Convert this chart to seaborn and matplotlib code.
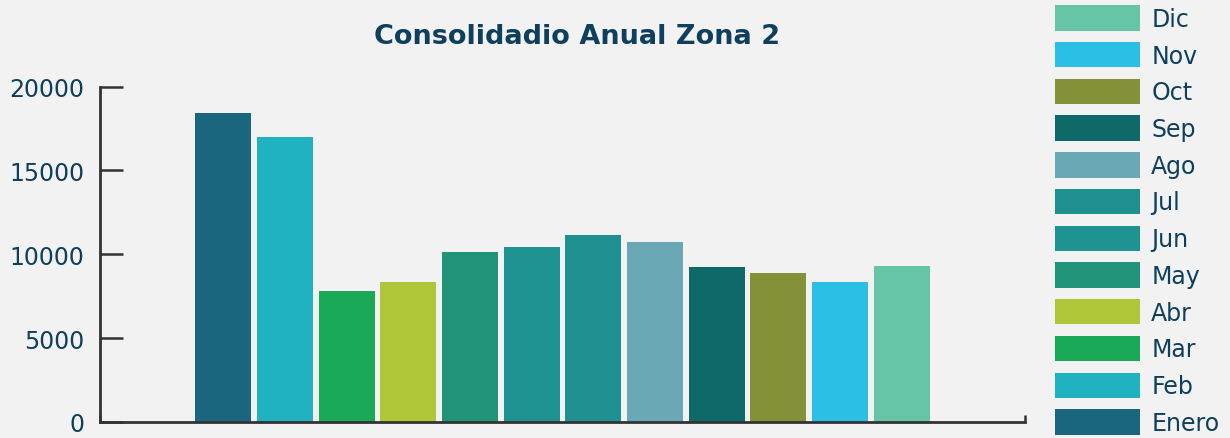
import matplotlib
matplotlib.use("Agg")
import matplotlib.pyplot as plt
import seaborn as sns
import pandas as pd

# Monthly totals for zone 2
meses = ["Enero", "Feb", "Mar", "Abr", "May", "Jun", "Jul", "Ago", "Sep", "Oct", "Nov", "Dic"]
valores = [18400, 17000, 7800, 8350, 10150, 10450, 11150, 10750, 9250, 8900, 8350, 9300]
colores = ["#1a667e", "#20b2c1", "#1aaa57", "#aec638", "#209378", "#1f9292",
           "#1f9090", "#6aa8b5", "#0e6a68", "#859138", "#2bbfe5", "#66c4a7"]
yticks = [0, 5000, 10000, 15000, 20000]

texto = "#0e3f5c"
fondo = "#f2f2f2"
linea = "#333333"

sns.set_theme(style="white")
plt.rcParams["font.family"] = ["DejaVu Sans"]

df = pd.DataFrame({"grupo": [""] * len(meses), "mes": meses, "valor": valores})

fig = plt.figure(figsize=(12.3, 4.39), dpi=100, facecolor=fondo)
ax = fig.add_axes([100 / 1230, 16 / 439, 925 / 1230, 335.5 / 439])
ax.set_facecolor(fondo)

sns.barplot(data=df, x="grupo", y="valor", hue="mes", hue_order=meses,
            palette=colores, width=0.8, gap=0.09, saturation=1,
            linewidth=0, ax=ax)

ax.set_xlim(-0.5, 0.5)
ax.set_ylim(0, 20000)
ax.set_yticks(yticks)
ax.set_yticklabels([str(v) for v in yticks], color=texto, fontsize=17)
ax.set_xticks([-0.5, 0.5])
ax.set_xticklabels(["", ""])
ax.set_xlabel("")
ax.set_ylabel("")

ax.tick_params(axis="y", direction="in", length=16.5, width=1.8, color=linea,
               pad=11, left=True)
ax.tick_params(axis="x", direction="in", length=5, width=1.8, color=linea,
               bottom=True)

for s in ["top", "right"]:
    ax.spines[s].set_visible(False)
for s in ["left", "bottom"]:
    ax.spines[s].set_color(linea)
    ax.spines[s].set_linewidth(2)

handles, labels = ax.get_legend_handles_labels()
ax.legend(handles[::-1], labels[::-1], loc="upper left",
          bbox_to_anchor=(1050 / 1230, 1 - 1 / 439), bbox_transform=fig.transFigure,
          frameon=False, fontsize=17, handlelength=3.6, handleheight=1.28,
          labelspacing=0.47, handletextpad=0.47, borderpad=0.22, borderaxespad=0,
          labelcolor=texto)

fig.text(577 / 1230, 1 - 37 / 439, "Consolidadio Anual Zona 2", ha="center",
         va="center", fontsize=19.5, fontweight="bold", color=texto)

fig.savefig("out.png", dpi=100, facecolor=fondo)
